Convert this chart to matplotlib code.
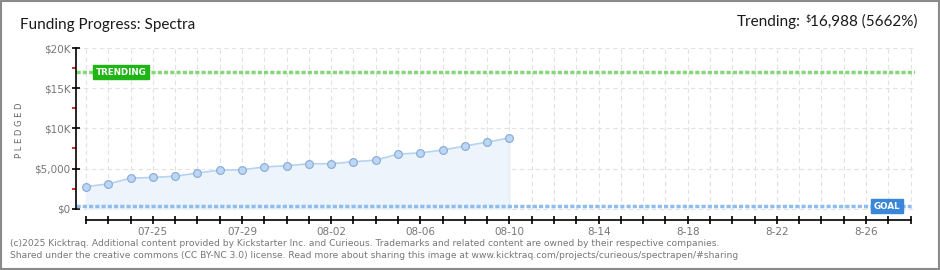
import numpy as np
import matplotlib
matplotlib.use("Agg")
import matplotlib.pyplot as plt
from matplotlib.patches import Rectangle

# ====== Data ======
days = list(range(20))  # 07-22 .. 08-10
pledged = [2750, 3100, 3800, 3900, 4050, 4450, 4800, 4850, 5200, 5350,
           5600, 5600, 5850, 6050, 6800, 6950, 7300, 7800, 8300, 8800]
n_days = 37  # 07-22 .. 08-28
label_days = [3, 7, 11, 15, 19, 23, 27, 31, 35]
label_text = ["07-25", "07-29", "08-02", "08-06", "08-10", "8-14", "8-18", "8-22", "8-26"]
y_ticks = [0, 5000, 10000, 15000, 20000]
y_labels = ["$0", "$5,000", "$10K", "$15K", "$20K"]
trending = 16988
goal = 300

plt.rcParams['font.family'] = ['DejaVu Sans']
head = ['Lato', 'DejaVu Sans']

fig = plt.figure(figsize=(9.4, 2.7), dpi=100)
fig.patch.set_facecolor("white")
fig.patches.append(Rectangle((0.001, 0.002), 0.998, 0.995, transform=fig.transFigure,
                             fill=False, edgecolor="#8a8a8a", linewidth=1.5))

ax = fig.add_axes([76 / 940, 50 / 270, (915 - 76) / 940, (222 - 48) / 270])
ax.set_xlim(-0.45, 37.2)
ax.set_ylim(-1400, 20250)

# grid
for d in range(n_days + 1):
    ax.plot([d, d], [0, 20000], color="#e2e2e2", lw=0.8, ls=(0, (4, 3)), zorder=0)
for v in y_ticks:
    ax.plot([-0.45, 37.2], [v, v], color="#e2e2e2", lw=0.8, ls=(0, (4, 3)), zorder=0)

# pledged area + line
ax.fill_between(days, 0, pledged, color="#edf4fc", zorder=1)
ax.plot([days[-1], days[-1]], [0, pledged[-1]], color="#e4eefa", lw=0.8, zorder=1)
ax.plot(days, pledged, color="#b5d3f3", lw=1.2, zorder=3)
ax.plot(days, pledged, ls="none", marker="o", markersize=5.6,
        markerfacecolor="#bcd7f5", markeredgecolor="#8eaed6", markeredgewidth=0.9, zorder=4)

# trending line
ax.plot([-0.45, 37.2], [trending, trending], color="#86d67a", lw=2.5,
        ls=(0, (1.2, 0.6)), zorder=2)
ax.text(0.45, trending, "TRENDING", color="white", fontsize=6.3, fontweight="bold",
        va="center", ha="left", zorder=6,
        bbox=dict(boxstyle="square,pad=0.3", fc="#1fb514", ec="#1fb514"))

# goal line
ax.plot([-0.45, 37], [goal, goal], color="#8fbdec", lw=2.5,
        ls=(0, (1.2, 0.6)), zorder=2)
ax.text(35.35, goal, "GOAL", color="white", fontsize=6.3, fontweight="bold",
        va="center", ha="left", zorder=6,
        bbox=dict(boxstyle="square,pad=0.3", fc="#3a86d8", ec="#3a86d8"))

# spines
for s in ["top", "right"]:
    ax.spines[s].set_visible(False)
ax.spines["left"].set_bounds(0, 20000)
ax.spines["bottom"].set_bounds(0, n_days)
ax.spines["left"].set_linewidth(1.2)
ax.spines["bottom"].set_linewidth(1.2)

ax.set_yticks(y_ticks)
ax.set_yticklabels(y_labels)
ax.set_yticks([2500, 7500, 12500, 17500], minor=True)
ax.tick_params(axis="y", which="major", length=6, width=1.2, color="black",
               labelsize=7.5, labelcolor="#777777", pad=1, direction="inout")
ax.tick_params(axis="y", which="minor", length=3, width=1.2, color="#e00000",
               direction="out")

ax.set_xticks(range(n_days + 1))
ax.set_xticklabels([label_text[label_days.index(d)] if d in label_days else ""
                    for d in range(n_days + 1)])
ax.tick_params(axis="x", which="major", length=6, width=1.2, color="black",
               labelsize=7.5, labelcolor="#777777", pad=2, direction="inout")

fig.text(20 / 940, 1 - 130 / 270, "P L E D G E D", rotation=90, fontsize=6,
         color="#666666", ha="center", va="center")

# titles
fig.text(20 / 940, 1 - 25 / 270, "Funding Progress: Spectra", fontsize=11,
         family=head, color="#1a1a1a", ha="left", va="center")
t_main = fig.text(918 / 940, 1 - 26 / 270, "16,988 (5662%)", fontsize=11,
                  family=head, color="#1a1a1a", ha="right", va="baseline")
ax.annotate("$", xy=(0, 1), xycoords=t_main, fontsize=6.5, family=head,
            color="#1a1a1a", ha="right", va="top")
ax.annotate("Trending:", xy=(0, 0), xycoords=t_main, fontsize=11, family=head,
            color="#1a1a1a", ha="right", va="bottom",
            xytext=(-7, 0), textcoords="offset points")

# footer
fig.text(10 / 940, 1 - 243 / 270,
         "(c)2025 Kicktraq. Additional content provided by Kickstarter Inc. and Curieous. "
         "Trademarks and related content are owned by their respective companies.",
         fontsize=6.6, color="#777777", ha="left", va="center")
fig.text(10 / 940, 1 - 256 / 270,
         "Shared under the creative commons (CC BY-NC 3.0) license. Read more about sharing "
         "this image at www.kicktraq.com/projects/curieous/spectrapen/#sharing",
         fontsize=6.6, color="#777777", ha="left", va="center")

fig.savefig("out.png", dpi=100)
